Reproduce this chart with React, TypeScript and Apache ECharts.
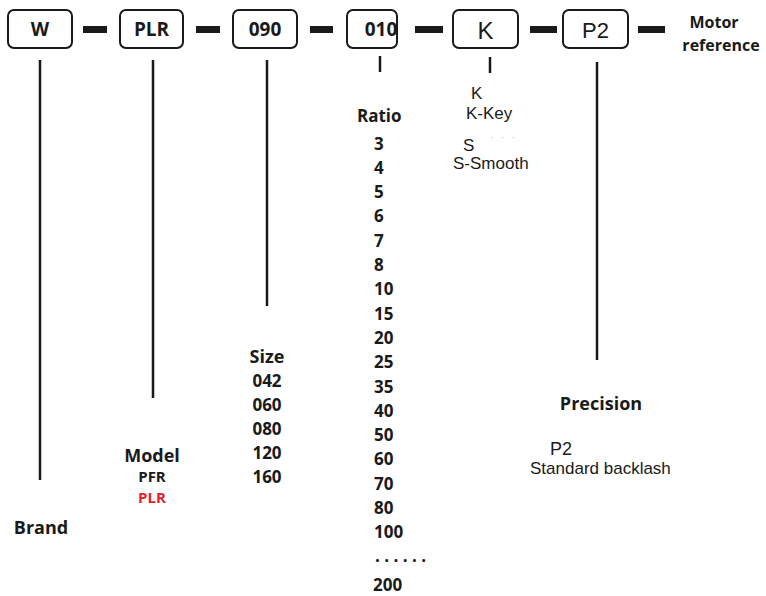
import React, { useEffect, useRef } from "react";
import * as echarts from "echarts";

// ---- data ----
const boxCodes = ["W", "PLR", "090", "010", "K", "P2"];
const motorLabel = ["Motor", "reference"];
const brandLabel = "Brand";
const modelTitle = "Model";
const modelValues = ["PFR", "PLR"];
const sizeTitle = "Size";
const sizeValues = ["042", "060", "080", "120", "160"];
const ratioTitle = "Ratio";
const ratioValues = ["3", "4", "5", "6", "7", "8", "10", "15", "20", "25", "35", "40", "50", "60", "70", "80", "100"];
const ratioEllipsis = ". . . . . .";
const ratioLast = "200";
const shaftValues = ["K", "K-Key", "S", "S-Smooth"];
const precisionTitle = "Precision";
const precisionValues = ["P2", "Standard backlash"];

// ---- layout ----
const BOX_X = [8, 120, 233, 347, 453, 563];
const BOX_W = [64, 63, 64, 50, 65, 65];
const BOX_Y = 10;
const BOX_H = 38;
const DASH_X = [83, 196, 310, 415, 530, 638];
const DASH_W = [24, 24, 23, 28, 27, 27];
const LINES = [
  { x: 40, y1: 60, y2: 480 },
  { x: 153, y1: 60, y2: 398 },
  { x: 267, y1: 60, y2: 306 },
  { x: 380, y1: 56, y2: 72 },
  { x: 490, y1: 57, y2: 73 },
  { x: 597, y1: 62, y2: 360 },
];

const BOLD = "'Open Sans', 'Noto Sans', sans-serif";
const ARIAL = "'Liberation Sans', Arial, sans-serif";
const INK = "#1a1a1a";

function txt(text: string, x: number, y: number, o: any = {}) {
  const size = o.size || 17;
  return {
    type: "text",
    x,
    y,
    z: 10,
    style: {
      text,
      fontFamily: o.family || BOLD,
      fontSize: size,
      lineHeight: o.lineHeight || size + 2,
      fontWeight: o.weight || "bold",
      fill: o.fill || INK,
      align: o.align || "center",
      verticalAlign: "middle",
    },
  };
}

export default function App() {
  const ref = useRef<HTMLDivElement>(null);
  useEffect(() => {
    if (!ref.current) return;
    const chart = echarts.init(ref.current, null, { renderer: "svg" });
    const els: any[] = [];
    els.push({ type: "rect", shape: { x: 0, y: 0, width: 766, height: 596 }, style: { fill: "#fff" }, z: 0 });

    boxCodes.forEach((code, i) => {
      const cx = BOX_X[i] + BOX_W[i] / 2;
      els.push({
        type: "rect",
        z: 5,
        shape: { x: BOX_X[i], y: BOX_Y, width: BOX_W[i], height: BOX_H, r: 6 },
        style: { fill: "#fff", stroke: INK, lineWidth: 2 },
      });
      const isArial = code === "K" || code === "P2";
      els.push(
        txt(code, i === 3 ? 381 : cx, BOX_Y + BOX_H / 2 + (isArial ? 1 : 0), {
          family: isArial ? ARIAL : BOLD,
          weight: isArial ? "normal" : "bold",
          size: code === "K" ? 24 : code === "P2" ? 22 : 19,
        })
      );
    });
    DASH_X.forEach((x, i) => {
      els.push({ type: "rect", z: 5, shape: { x, y: 26, width: DASH_W[i], height: 7 }, style: { fill: INK } });
    });
    els.push(txt(motorLabel[0], 714, 22, { size: 16 }));
    els.push(txt(motorLabel[1], 721, 45, { size: 16 }));

    LINES.forEach((l) => {
      els.push({
        type: "line",
        z: 5,
        shape: { x1: l.x, y1: l.y1, x2: l.x, y2: l.y2 },
        style: { stroke: INK, lineWidth: 2.5 },
      });
    });

    // Brand
    els.push(txt(brandLabel, 41, 527, { size: 18 }));
    // Model
    els.push(txt(modelTitle, 152, 455, { size: 18 }));
    els.push(txt(modelValues[0], 152, 476, { size: 15, lineHeight: 15 }));
    els.push(txt(modelValues[1], 152, 497, { size: 15, lineHeight: 15, fill: "#e3222e" }));
    // Size
    els.push(txt(sizeTitle, 267, 356, { size: 18 }));
    sizeValues.forEach((v, i) => els.push(txt(v, 267, 380 + i * 24.2, { size: 17 })));
    // Ratio
    els.push(txt(ratioTitle, 357, 115, { size: 17, align: "left" }));
    ratioValues.forEach((v, i) => els.push(txt(v, 374, 143 + i * 24.3, { size: 17, align: "left" })));
    els.push(txt(ratioEllipsis, 375, 555, { size: 17, align: "left" }));
    els.push(txt(ratioLast, 373, 584, { size: 17, align: "left" }));
    // Shaft
    els.push(txt(shaftValues[0], 471, 93, { family: ARIAL, weight: "normal", size: 17, align: "left" }));
    els.push(txt(shaftValues[1], 466, 113, { family: ARIAL, weight: "normal", size: 17, align: "left" }));
    els.push(txt(shaftValues[2], 463, 145, { family: ARIAL, weight: "normal", size: 17, align: "left" }));
    els.push(txt("·  ·  ·", 490, 137, { family: ARIAL, weight: "normal", size: 12, align: "left", fill: "#cfcfcf" }));
    els.push(txt(shaftValues[3], 453, 163, { family: ARIAL, weight: "normal", size: 17, align: "left" }));
    // Precision
    els.push(txt(precisionTitle, 601, 403, { size: 18 }));
    els.push(txt(precisionValues[0], 550, 449, { family: ARIAL, weight: "normal", size: 18, align: "left" }));
    els.push(txt(precisionValues[1], 530, 468, { family: ARIAL, weight: "normal", size: 17, align: "left" }));

    chart.setOption({ animation: false, graphic: { elements: els } });
    return () => chart.dispose();
  }, []);
  return (
    <div
      ref={ref}
      style={{ position: "absolute", left: 0, top: 0, width: 766, height: 596, background: "#fff" }}
    />
  );
}
